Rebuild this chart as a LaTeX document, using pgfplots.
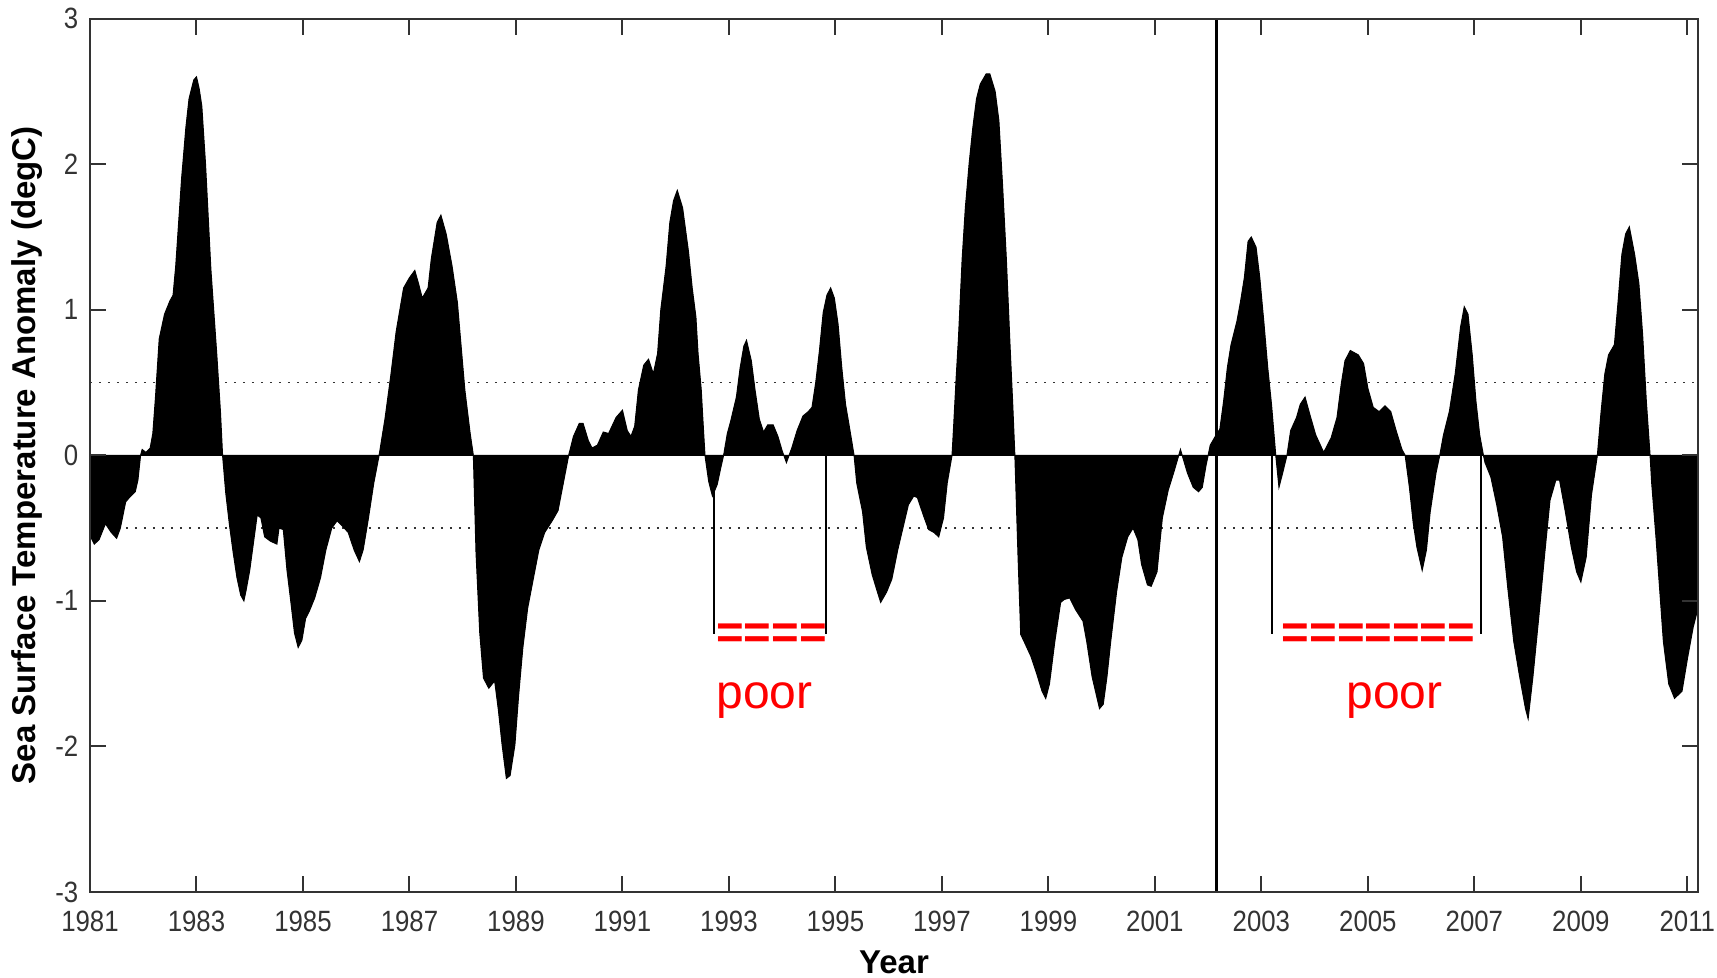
\documentclass[border=0pt]{standalone}
\usepackage{pgfplots}
\usepackage{pgfplotstable}
\pgfplotsset{compat=1.18}
\usepackage{fontspec}
\setmainfont{Liberation Sans}
\newfontfamily\condfont[FakeStretch=0.88]{Liberation Sans}
\usetikzlibrary{calc}

% monthly-ish SST anomaly
\pgfplotstableread{
year anom
1981.00 -0.55
1981.08 -0.61
1981.17 -0.58
1981.29 -0.47
1981.40 -0.53
1981.50 -0.57
1981.57 -0.50
1981.67 -0.32
1981.74 -0.29
1981.85 -0.25
1981.90 -0.17
1981.95 0.00
1981.98 0.04
1982.05 0.02
1982.13 0.05
1982.18 0.15
1982.23 0.40
1982.30 0.80
1982.40 0.97
1982.50 1.06
1982.56 1.10
1982.61 1.30
1982.72 1.90
1982.80 2.25
1982.86 2.45
1982.95 2.58
1983.00 2.60
1983.05 2.52
1983.10 2.40
1983.17 2.00
1983.27 1.28
1983.38 0.70
1983.45 0.30
1983.49 0.00
1983.55 -0.26
1983.62 -0.48
1983.69 -0.67
1983.76 -0.84
1983.83 -0.96
1983.89 -1.00
1983.93 -0.93
1984.00 -0.79
1984.07 -0.60
1984.14 -0.41
1984.21 -0.43
1984.28 -0.56
1984.39 -0.59
1984.51 -0.61
1984.55 -0.50
1984.63 -0.51
1984.70 -0.79
1984.77 -1.00
1984.84 -1.22
1984.91 -1.32
1984.98 -1.27
1985.05 -1.12
1985.12 -1.07
1985.22 -0.98
1985.33 -0.84
1985.43 -0.65
1985.54 -0.50
1985.64 -0.45
1985.75 -0.49
1985.85 -0.53
1985.96 -0.65
1986.06 -0.73
1986.13 -0.65
1986.23 -0.43
1986.33 -0.19
1986.43 0.00
1986.54 0.25
1986.65 0.55
1986.75 0.85
1986.82 1.00
1986.89 1.15
1987.00 1.22
1987.10 1.27
1987.17 1.18
1987.24 1.08
1987.35 1.15
1987.41 1.35
1987.52 1.60
1987.59 1.65
1987.69 1.52
1987.80 1.30
1987.90 1.05
1987.97 0.75
1988.04 0.45
1988.14 0.15
1988.20 0.00
1988.25 -0.67
1988.32 -1.22
1988.39 -1.53
1988.49 -1.60
1988.60 -1.55
1988.67 -1.75
1988.74 -1.99
1988.82 -2.22
1988.89 -2.20
1988.98 -1.99
1989.05 -1.65
1989.13 -1.32
1989.22 -1.05
1989.33 -0.84
1989.43 -0.65
1989.54 -0.53
1989.68 -0.45
1989.79 -0.38
1989.89 -0.19
1989.99 0.00
1990.08 0.13
1990.19 0.22
1990.26 0.22
1990.36 0.10
1990.43 0.05
1990.53 0.07
1990.64 0.16
1990.74 0.15
1990.88 0.26
1991.00 0.31
1991.09 0.17
1991.16 0.13
1991.23 0.20
1991.30 0.45
1991.40 0.62
1991.49 0.66
1991.58 0.56
1991.66 0.70
1991.72 1.00
1991.82 1.30
1991.89 1.60
1991.96 1.75
1992.03 1.82
1992.13 1.70
1992.24 1.40
1992.31 1.15
1992.38 0.95
1992.42 0.70
1992.48 0.45
1992.51 0.25
1992.55 0.00
1992.62 -0.18
1992.69 -0.28
1992.78 -0.20
1992.85 -0.08
1992.90 0.00
1992.97 0.15
1993.03 0.23
1993.14 0.40
1993.21 0.60
1993.28 0.75
1993.33 0.79
1993.42 0.65
1993.49 0.45
1993.57 0.25
1993.65 0.16
1993.73 0.21
1993.83 0.21
1993.92 0.13
1994.00 0.03
1994.08 -0.05
1994.18 0.05
1994.28 0.17
1994.39 0.27
1994.49 0.30
1994.56 0.33
1994.63 0.50
1994.70 0.72
1994.77 0.98
1994.84 1.10
1994.91 1.15
1994.98 1.08
1995.05 0.90
1995.12 0.60
1995.19 0.35
1995.26 0.20
1995.35 0.00
1995.40 -0.19
1995.51 -0.39
1995.58 -0.63
1995.69 -0.82
1995.79 -0.94
1995.85 -1.01
1995.96 -0.94
1996.06 -0.85
1996.17 -0.65
1996.28 -0.48
1996.37 -0.34
1996.47 -0.28
1996.54 -0.29
1996.65 -0.41
1996.75 -0.51
1996.85 -0.53
1996.94 -0.56
1997.03 -0.43
1997.10 -0.19
1997.19 0.00
1997.22 0.20
1997.27 0.55
1997.31 0.80
1997.38 1.35
1997.44 1.70
1997.51 2.00
1997.58 2.25
1997.65 2.45
1997.72 2.55
1997.83 2.62
1997.90 2.62
1998.00 2.50
1998.07 2.30
1998.14 1.85
1998.21 1.35
1998.28 0.75
1998.33 0.35
1998.37 0.00
1998.43 -0.70
1998.48 -1.23
1998.57 -1.30
1998.67 -1.38
1998.78 -1.50
1998.88 -1.62
1998.95 -1.67
1999.02 -1.57
1999.12 -1.28
1999.23 -1.01
1999.30 -0.99
1999.40 -0.98
1999.51 -1.06
1999.65 -1.14
1999.72 -1.28
1999.82 -1.52
1999.96 -1.74
2000.03 -1.71
2000.10 -1.52
2000.17 -1.28
2000.28 -0.94
2000.38 -0.70
2000.49 -0.56
2000.59 -0.50
2000.68 -0.58
2000.75 -0.75
2000.86 -0.89
2000.93 -0.90
2001.04 -0.80
2001.14 -0.43
2001.25 -0.24
2001.36 -0.11
2001.48 0.04
2001.61 -0.12
2001.72 -0.22
2001.82 -0.25
2001.89 -0.22
2001.96 -0.07
2002.04 0.07
2002.15 0.14
2002.22 0.18
2002.29 0.37
2002.36 0.60
2002.43 0.76
2002.54 0.92
2002.61 1.06
2002.68 1.22
2002.75 1.47
2002.81 1.50
2002.90 1.43
2002.97 1.22
2003.05 0.90
2003.12 0.60
2003.19 0.35
2003.27 0.00
2003.33 -0.22
2003.40 -0.12
2003.48 0.00
2003.55 0.17
2003.66 0.26
2003.73 0.35
2003.82 0.40
2003.91 0.28
2004.02 0.14
2004.17 0.02
2004.31 0.12
2004.42 0.26
2004.50 0.49
2004.57 0.65
2004.67 0.72
2004.82 0.69
2004.92 0.63
2005.00 0.46
2005.10 0.33
2005.21 0.30
2005.32 0.34
2005.43 0.30
2005.53 0.17
2005.64 0.04
2005.70 0.00
2005.78 -0.22
2005.85 -0.46
2005.92 -0.63
2006.02 -0.79
2006.10 -0.65
2006.17 -0.39
2006.28 -0.12
2006.35 0.00
2006.42 0.14
2006.53 0.30
2006.64 0.56
2006.74 0.88
2006.81 1.02
2006.88 0.97
2006.96 0.69
2007.03 0.37
2007.10 0.14
2007.17 0.00
2007.20 -0.05
2007.31 -0.15
2007.42 -0.34
2007.53 -0.56
2007.63 -0.92
2007.74 -1.28
2007.85 -1.52
2007.96 -1.74
2008.01 -1.81
2008.10 -1.52
2008.21 -1.11
2008.32 -0.68
2008.42 -0.31
2008.53 -0.17
2008.60 -0.17
2008.71 -0.39
2008.82 -0.63
2008.92 -0.80
2009.00 -0.87
2009.10 -0.70
2009.20 -0.27
2009.31 0.00
2009.38 0.30
2009.45 0.56
2009.52 0.69
2009.63 0.76
2009.70 1.06
2009.77 1.38
2009.84 1.52
2009.91 1.57
2010.01 1.38
2010.09 1.18
2010.16 0.83
2010.23 0.37
2010.30 0.00
2010.33 -0.19
2010.41 -0.56
2010.48 -0.92
2010.55 -1.28
2010.65 -1.57
2010.76 -1.67
2010.90 -1.62
2011.00 -1.40
2011.11 -1.18
2011.20 -1.05
}\sst

\definecolor{axgray}{HTML}{333333}

\begin{document}
\begin{tikzpicture}
\begin{axis}[
  scale only axis, width=482.4pt, height=262pt,
  xmin=1981, xmax=2011.2, ymin=-3, ymax=3,
  xtick={1981,1983,...,2011}, ytick={-3,-2,...,3},
  xticklabel style={/pgf/number format/1000 sep={}, yshift=-2.2pt},
  tick align=inside, major tick length=4.8pt,
  axis line style={axgray, line width=0.6pt},
  every tick/.style={axgray, line width=0.6pt},
  tick label style={font=\condfont\fontsize{8.8}{10}\selectfont, text=axgray},
  /pgf/number format/assume math mode=true,
  xlabel={\textbf{Year}},
  ylabel={\textbf{Sea Surface Temperature Anomaly (degC)}},
  label style={font=\fontsize{9.9}{11}\selectfont},
  xlabel style={at={(axis description cs:0.5,-0.081)}, anchor=center},
  ylabel style={at={(axis description cs:-0.039,0.5)}, anchor=center},
  axis on top,
]
% zero line and +-0.5 thresholds
\addplot[gray!70, line width=0.4pt] coordinates {(1981,0) (2011.2,0)};
\addplot[axgray, line width=0.5pt, dash pattern=on 0.6pt off 2.1pt] coordinates {(1981,0.5) (2011.2,0.5)};
\addplot[axgray, line width=0.5pt, dash pattern=on 0.6pt off 2.1pt] coordinates {(1981,-0.5) (2011.2,-0.5)};
% anomaly area
\addplot[draw=black, fill=black, line width=0.3pt] table[x=year, y=anom] {\sst} \closedcycle;
% record split
\addplot[black, line width=0.9pt] coordinates {(2002.15,-3) (2002.15,3)};
% "poor" brackets
\addplot[black, line width=0.6pt] coordinates {(1992.72,0) (1992.72,-1.23)};
\addplot[black, line width=0.6pt] coordinates {(1994.82,0) (1994.82,-1.23)};
\addplot[black, line width=0.6pt] coordinates {(2003.19,0) (2003.19,-1.23)};
\addplot[black, line width=0.6pt] coordinates {(2007.13,0) (2007.13,-1.23)};
\node[red, font=\bfseries\fontsize{14.2}{16}\selectfont, inner sep=0pt] at (axis cs:1993.8,-1.24) {====};
\node[red, font=\bfseries\fontsize{14.2}{16}\selectfont, inner sep=0pt] at (axis cs:2005.2,-1.24) {=======};
\node[red, font=\fontsize{14.4}{16}\selectfont, inner sep=0pt, anchor=base] at (axis cs:1993.67,-1.74) {poor};
\node[red, font=\fontsize{14.4}{16}\selectfont, inner sep=0pt, anchor=base] at (axis cs:2005.5,-1.74) {poor};
\end{axis}
\pgfresetboundingbox
\path ($(current axis.south west)+(-27pt,-25.8pt)$) rectangle ($(current axis.north east)+(5.7pt,5.6pt)$);
\end{tikzpicture}
\end{document}
